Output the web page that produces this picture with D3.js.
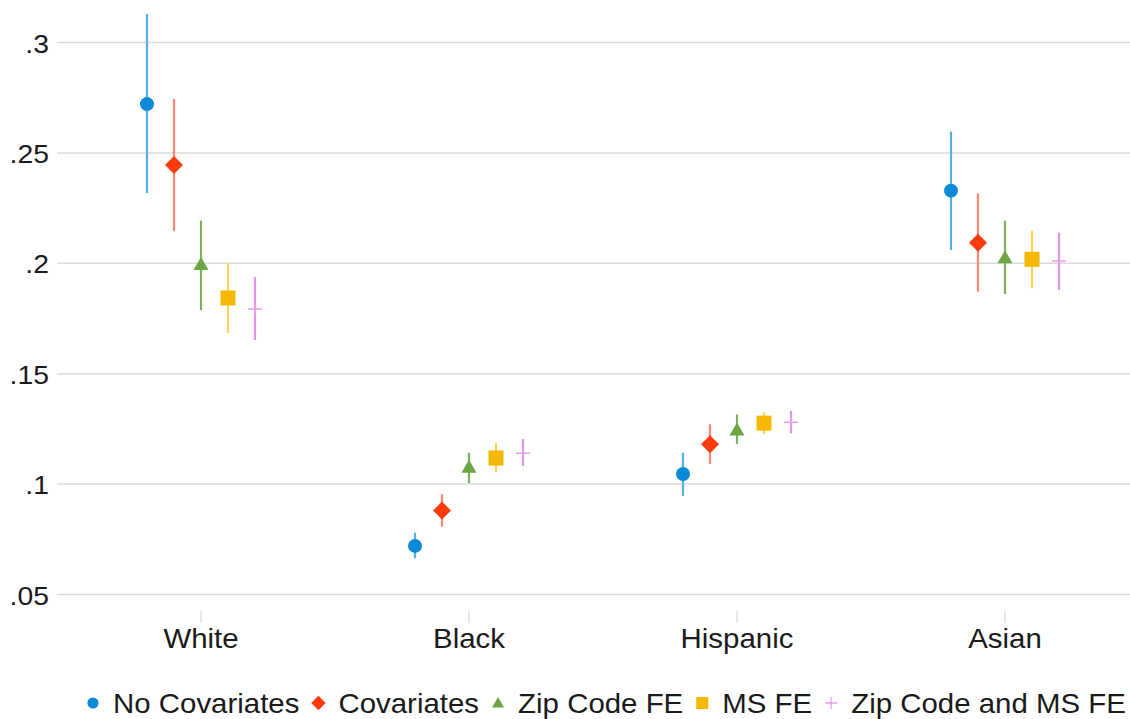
<!DOCTYPE html>
<html>
<head>
<meta charset="utf-8">
<script src="https://cdn.jsdelivr.net/npm/d3@7"></script>
<style>
  html, body { margin: 0; padding: 0; background: #fff; }
  svg { display: block; font-family: "Liberation Sans", Arial, Helvetica, sans-serif; }
</style>
</head>
<body>
<svg id="chart" width="1130" height="719"></svg>
<script>
// ---- data ----
const groups = ["White", "Black", "Hispanic", "Asian"];
const seriesNames = ["No Covariates", "Covariates", "Zip Code FE", "MS FE", "Zip Code and MS FE"];
const yTicks = [0.05, 0.1, 0.15, 0.2, 0.25, 0.3];

// point estimates per series, ordered as groups
const estNoCov   = [0.2721, 0.0720, 0.1046, 0.2329];
const estCov     = [0.2445, 0.0880, 0.1180, 0.2093];
const estZip     = [0.1995, 0.1076, 0.1245, 0.2025];
const estMS      = [0.1843, 0.1118, 0.1276, 0.2018];
const estZipMS   = [0.1793, 0.1140, 0.1280, 0.2010];
// lower CI bounds
const loNoCov    = [0.2318, 0.0664, 0.0947, 0.2060];
const loCov      = [0.2146, 0.0807, 0.1091, 0.1871];
const loZip      = [0.1788, 0.1004, 0.1182, 0.1861];
const loMS       = [0.1684, 0.1053, 0.1226, 0.1887];
const loZipMS    = [0.1653, 0.1082, 0.1230, 0.1879];
// upper CI bounds
const hiNoCov    = [0.3129, 0.0780, 0.1142, 0.2596];
const hiCov      = [0.2744, 0.0954, 0.1271, 0.2317];
const hiZip      = [0.2193, 0.1142, 0.1316, 0.2193];
const hiMS       = [0.2001, 0.1188, 0.1325, 0.2148];
const hiZipMS    = [0.1938, 0.1204, 0.1331, 0.2139];

const seriesColors = ["#0c8ad7", "#ff3a0c", "#6da544", "#f7b900", "#ec9cec"];
const ciColors     = ["#55b0e6", "#ff8677", "#7fb15c", "#fbd25c", "#e391e6"];
const seriesShapes = ["circle", "diamond", "triangle", "square", "plus"];

const est = [estNoCov, estCov, estZip, estMS, estZipMS];
const lo  = [loNoCov, loCov, loZip, loMS, loZipMS];
const hi  = [hiNoCov, hiCov, hiZip, hiMS, hiZipMS];

const points = [];
seriesNames.forEach((s, si) => {
  groups.forEach((g, gi) => {
    points.push({ series: s, si, group: g, est: est[si][gi], lo: lo[si][gi], hi: hi[si][gi] });
  });
});

// ---- layout ----
const svg = d3.select("#chart");
const plotLeft = 57, plotRight = 1130;
const stretch = 1.09;

const y = d3.scaleLinear().domain([0.05, 0.3]).range([594.5, 42.5]);
const x = d3.scaleBand().domain(groups).range([67, 1139]).padding(0);
const xOff = d3.scalePoint().domain(seriesNames).range([-54, 54]);
const cx = d => x(d.group) + x.bandwidth() / 2 + xOff(d.series);

// gridlines
svg.append("g").selectAll("line").data(yTicks).join("line")
  .attr("x1", plotLeft).attr("x2", plotRight)
  .attr("y1", d => y(d)).attr("y2", d => y(d))
  .attr("stroke", "#dcdcdc").attr("stroke-width", 1.5);

// y labels
const fmt = d => d3.format(".2~f")(d).replace(/^0/, "");
svg.append("g").selectAll("text").data(yTicks).join("text")
  .attr("transform", d => `translate(49,${y(d) + 10}) scale(${stretch},1)`)
  .attr("text-anchor", "end")
  .attr("font-size", 26).attr("fill", "#1a1a1a")
  .text(fmt);

// x ticks and labels
const xg = svg.append("g");
xg.selectAll("line").data(groups).join("line")
  .attr("x1", d => x(d) + x.bandwidth() / 2).attr("x2", d => x(d) + x.bandwidth() / 2)
  .attr("y1", 611).attr("y2", 623)
  .attr("stroke", "#d0d0d0").attr("stroke-width", 1);
xg.selectAll("text").data(groups).join("text")
  .attr("transform", d => `translate(${x(d) + x.bandwidth() / 2},648) scale(${stretch},1)`)
  .attr("text-anchor", "middle")
  .attr("font-size", 27).attr("fill", "#1a1a1a")
  .text(d => d);

// CI lines
svg.append("g").selectAll("line").data(points).join("line")
  .attr("x1", cx).attr("x2", cx)
  .attr("y1", d => y(d.lo)).attr("y2", d => y(d.hi))
  .attr("stroke", d => ciColors[d.si]).attr("stroke-width", 2.2);

// marker drawing
function drawMarker(sel, shape, color) {
  if (shape === "circle") {
    sel.append("circle").attr("r", 7).attr("fill", color);
  } else if (shape === "diamond") {
    sel.append("path").attr("d", "M0,-9L9,0L0,9L-9,0Z").attr("fill", color);
  } else if (shape === "triangle") {
    sel.append("path").attr("d", "M0,-7.5L7.5,5.5L-7.5,5.5Z").attr("fill", color);
  } else if (shape === "square") {
    sel.append("rect").attr("x", -7.5).attr("y", -7.5).attr("width", 15).attr("height", 15).attr("fill", color);
  } else if (shape === "plus") {
    sel.append("path").attr("d", "M-7,0H7M0,-7V7").attr("stroke", color).attr("stroke-width", 1.5).attr("fill", "none");
  }
}

svg.append("g").selectAll("g").data(points).join("g")
  .attr("transform", d => `translate(${cx(d)},${y(d.est)})`)
  .each(function(d) { drawMarker(d3.select(this), seriesShapes[d.si], seriesColors[d.si]); });

// legend
const leg = svg.append("g");
let lx = 93;
const ly = 703;
seriesNames.forEach((s, si) => {
  const mg = leg.append("g").attr("transform", `translate(${lx},${ly})`);
  const scale = si === 4 ? 0.85 : 0.8;
  const inner = mg.append("g").attr("transform", `scale(${scale})`);
  drawMarker(inner, seriesShapes[si], seriesColors[si]);
  const t = leg.append("text")
    .attr("transform", `translate(${lx + 20},${ly + 10}) scale(${stretch},1)`)
    .attr("font-size", 27).attr("fill", "#1a1a1a").text(s);
  const w = t.node().getComputedTextLength() * stretch;
  lx = lx + 20 + w + 19;
});
</script>
</body>
</html>
